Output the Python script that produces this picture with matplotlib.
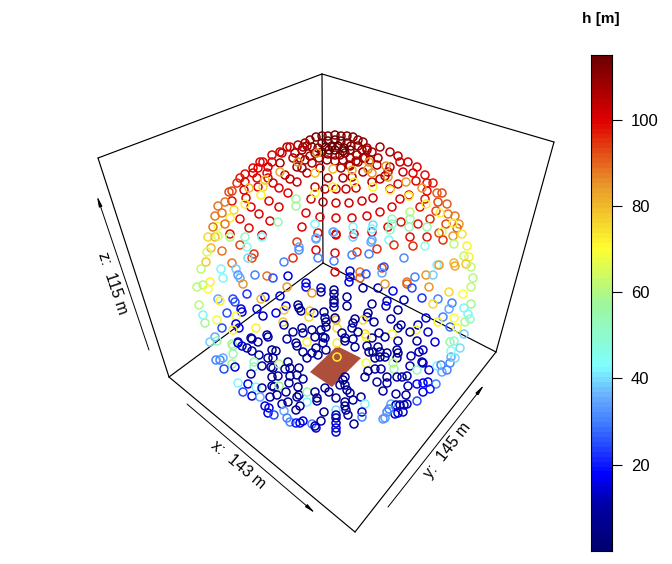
import numpy as np
import matplotlib
matplotlib.use("Agg")
import matplotlib.pyplot as plt
from matplotlib.colors import LinearSegmentedColormap, Normalize

plt.rcParams['font.family'] = ['Liberation Sans', 'DejaVu Sans']

# every point: projected x, projected y (pixels), h [m]
cap_pts = [
    (310,140,110),(316,137,112),(322,136,112),(328,136,112),(335,135,113),(341,136,112),(347,136,112),(353,137,112),
    (358,140,110),(363,142,110),(322,143,112),(328,141,113),(335,140,114),(341,141,113),(347,143,112),(351,146,112),
    (350,150,112),(345,153,112),(340,155,110),(335,155,110),(328,154,112),(322,152,112),(318,148,112),(326,147,114),
    (332,146,114),(338,146,114),(344,148,114),(343,151,114),(335,150,114),(329,150,114),(307,146,108),(302,150,108),
    (312,147,110),(315,153,108),(310,156,108),(305,160,106),(300,158,106),(319,158,108),(327,160,108),(335,161,108),
    (343,160,108),(350,158,108),(357,155,108),(362,150,108),(367,148,108),(358,146,110),(372,152,106),(365,158,106),
    (370,160,106),(356,161,106),(349,165,106),
]
upper_left_pts = [
    (305,143,106),(298,145,105),(290,147,103),(287,147,103),(280,152,102),(272,155,100),(263,162,100),(260,162,100),
    (253,168,100),(245,174,98),(240,178,97),(237,183,95),(232,191,93),(229,192,92),(303,147,106),(295,153,105),
    (293,158,105),(282,153,103),(280,163,108),(272,162,100),(268,167,102),(267,173,100),(258,168,100),(253,173,100),
    (257,178,100),(245,182,100),(244,190,100),(232,201,98),(307,173,104),(302,168,108),(297,167,108),(290,179,104),
    (285,175,104),(268,178,100),(273,183,102),(279,188,100),(288,193,100),(258,187,100),(269,201,100),(251,207,100),
    (246,198,100),(259,214,100),(279,207,100),(311,199,102),(306,213,100),(270,221,100),(249,228,98),(240,219,98),
    (230,234,98),(302,227,100),(262,235,100),(297,182,102),(315,187,102),(325,189,104),(336,189,104),(323,202,104),
    (336,203,102),(320,217,100),(336,218,100),(318,233,100),(336,234,100),(328,178,106),(320,168,106),(312,163,106),
    (315,173,78),(333,169,80),(280,172,82),(298,162,86),(317,153,85),(265,180,78),(263,187,75),(261,195,72),
    (249,188,80),(245,204,72),(234,210,75),(230,218,72),(218,226,70),(213,227,88),(208,237,75),(215,237,80),
    (225,224,88),(222,213,88),(215,216,88),(218,206,88),(225,202,88),(296,199,58),(296,206,58),(315,193,68),
    (278,222,55),(230,237,60),(245,237,50),(218,236,65),(315,224,42),(334,232,38),(316,238,35),(262,237,42),
    (333,187,72),
]
upper_right_pts = [
    (380,147,108),(390,152,106),(398,156,104),(408,162,102),(417,167,100),(425,175,98),(433,183,97),(442,193,92),
    (367,150,108),(363,158,106),(358,162,106),(350,166,106),(341,168,106),(378,158,106),(377,165,106),(390,167,104),
    (388,172,104),(385,176,104),(380,179,104),(372,182,104),(363,172,106),(352,177,106),(343,178,106),(346,189,103),
    (356,188,102),(398,184,100),(403,172,102),(400,162,102),(416,181,100),(413,173,100),(427,183,98),(427,191,98),
    (409,195,100),(400,199,100),(390,189,102),(373,198,102),(362,201,102),(349,203,102),(425,199,97),(420,207,97),
    (392,207,100),(380,212,100),(367,216,100),(352,218,100),(430,219,96),(418,224,97),(401,222,98),(388,227,98),
    (372,232,100),(354,234,100),(336,235,100),(410,237,98),(427,237,97),(447,204,90),(438,202,92),(437,193,90),
    (455,216,88),(459,224,85),(448,214,88),(436,211,93),(446,224,93),(457,228,90),(439,233,93),(453,236,85),
    (406,182,85),(422,188,84),(372,173,84),(368,169,84),(388,177,84),(352,170,80),(386,166,85),(369,162,85),
    (390,190,72),(373,187,72),(354,182,72),(409,196,72),(426,204,72),(440,213,72),(462,234,74),(453,223,72),
    (392,219,52),(392,224,50),(390,230,50),(410,212,62),(410,219,55),(409,227,52),(427,227,55),(373,225,40),
    (372,229,42),(353,227,42),(333,232,35),(372,240,35),(353,237,38),(389,240,42),(442,232,65),
]
mid_left_pts = [
    (297,242,95),(299,247,35),(299,250,32),(316,239,35),(316,250,100),(318,258,30),(293,258,95),(284,262,30),
    (254,254,95),(252,258,92),(248,258,40),(240,245,92),(247,247,45),(211,248,80),(222,251,88),(207,252,65),
    (206,262,78),(232,263,88),(201,269,62),(221,269,42),(236,269,38),(223,278,42),(238,275,33),(240,278,35),
    (243,284,85),(255,275,30),(267,276,88),(273,278,25),(288,276,15),(210,282,72),(203,285,60),(197,287,62),
    (208,289,70),(247,294,22),(287,287,85),(306,283,15),(306,287,15),(321,288,12),(321,292,12),(312,293,85),
    (334,290,8),(334,294,8),(280,296,15),(265,297,15),(261,299,80),(218,299,35),(220,301,72),(233,299,25),
    (235,302,25),(199,305,60),(334,300,8),(334,303,8),(334,307,8),(286,306,15),(298,305,8),(299,308,8),
    (301,311,8),(310,311,78),(284,310,78),(257,309,15),(241,309,15),(242,312,15),(227,313,25),(276,313,15),
    (263,316,12),(236,316,70),(203,315,42),(314,313,10),(309,317,75),(324,312,8),(335,318,80),(325,318,8),
    (326,322,8),(326,327,8),(205,323,58),(217,320,68),(283,322,78),(284,325,12),(236,324,15),(239,328,15),
    (233,330,72),(222,328,25),(256,328,72),(302,328,8),(312,330,8),(293,332,8),(303,333,8),(321,330,8),
    (337,328,75),(215,337,35),(217,341,55),(251,338,10),(267,335,10),(268,337,10),(287,339,10),(258,342,10),
    (238,342,10),(307,342,72),(296,343,8),(337,343,72),(323,337,8),(315,337,8),(232,344,58),(210,342,38),
]
mid_right_pts = [
    (335,253,100),(334,261,30),(335,272,100),(357,252,95),(352,255,30),(369,254,30),(377,249,95),(371,242,35),
    (394,245,95),(413,246,95),(425,246,45),(443,240,95),(454,244,62),(467,246,72),(464,256,62),(469,257,72),
    (404,258,32),(437,265,42),(439,265,85),(454,263,80),(455,266,82),(466,264,78),(471,267,62),(473,278,60),
    (471,287,62),(463,294,70),(382,268,92),(384,267,25),(382,273,35),(360,272,88),(360,278,90),(366,274,25),
    (350,271,15),(350,277,15),(349,282,15),(363,288,10),(378,288,12),(385,284,85),(393,291,18),(407,282,88),
    (407,284,90),(412,288,25),(415,277,30),(426,275,85),(433,275,38),(429,287,85),(422,298,22),(438,299,30),
    (449,292,75),(433,304,75),(452,303,30),(449,309,35),(464,308,42),(471,304,58),(468,314,42),(443,317,30),
    (454,318,70),(465,322,60),(470,319,50),(438,322,72),(426,318,15),(404,300,12),(387,301,15),(386,306,12),
    (372,304,10),(347,297,8),(347,306,8),(398,310,10),(368,313,8),(367,317,8),(363,320,75),(355,319,8),
    (353,323,8),(352,328,8),(336,320,80),(335,318,8),(374,322,10),(391,319,10),(401,325,10),(398,328,10),
    (418,325,12),(416,330,72),(410,332,10),(428,332,15),(392,334,70),(379,333,8),(365,334,75),(358,332,8),
    (342,333,8),(372,338,8),(353,339,8),(345,338,8),(385,337,8),(398,341,10),(417,341,10),(435,342,15),
    (450,327,28),(457,328,70),(464,334,38),(450,342,55),(454,341,50),
]
low_left_pts = [
    (233,346,58),(238,343,15),(242,346,15),(233,354,55),(216,360,30),(220,360,30),(223,358,35),(232,364,58),
    (224,369,25),(235,367,15),(247,348,10),(252,351,10),(252,339,10),(259,355,10),(254,362,55),(254,367,50),
    (262,366,10),(251,374,10),(272,350,8),(276,351,8),(268,358,8),(273,358,8),(271,367,8),(273,368,8),
    (279,364,60),(288,362,8),(290,368,8),(285,369,8),(299,368,8),(290,376,8),(297,375,8),(303,379,8),
    (278,376,8),(272,377,8),(272,386,8),(274,387,8),(279,386,58),(289,383,8),(298,387,8),(248,384,15),
    (238,383,42),(256,387,42),(262,388,10),(243,392,25),(252,396,15),(260,397,35),(270,397,10),(277,395,10),
    (286,392,8),(299,395,8),(297,397,8),(307,392,55),(315,392,8),(317,401,8),(317,398,8),(307,402,42),
    (288,402,8),(282,404,10),(300,406,8),(296,410,8),(265,406,15),(269,408,15),(268,413,15),(274,415,25),
    (284,411,35),(287,418,30),(290,422,30),(296,423,20),(300,423,15),(303,421,15),(312,424,30),(316,428,15),
    (315,426,10),(321,421,10),(324,412,8),(325,388,10),(329,392,8),(297,346,8),(303,352,8),(307,358,8),
    (312,353,8),(316,348,8),(323,343,8),(325,338,8),(326,350,8),(318,355,8),
]
low_right_pts = [
    (345,341,8),(355,347,8),(366,337,72),(366,363,70),(367,346,8),(373,352,8),(380,352,8),(387,353,8),
    (397,350,8),(398,353,8),(397,358,8),(393,363,62),(394,369,55),(385,357,8),(378,347,8),(375,358,8),
    (380,357,8),(369,352,8),(375,369,10),(381,369,10),(368,371,8),(365,377,8),(377,382,10),(387,377,10),
    (387,383,10),(397,377,10),(402,377,10),(407,376,10),(410,366,12),(411,356,12),(417,370,50),(429,370,15),
    (437,366,42),(441,365,30),(442,372,35),(447,370,30),(450,363,30),(451,357,35),(455,358,40),(451,351,45),
    (460,348,40),(422,362,12),(423,363,12),(419,352,12),(423,350,12),(408,386,12),(417,384,18),(423,383,18),
    (428,382,15),(436,384,30),(430,389,20),(423,392,15),(383,391,10),(396,394,10),(406,395,10),(417,401,25),
    (345,377,8),(343,380,8),(345,385,8),(340,385,8),(347,390,8),(350,393,8),(336,398,8),(353,400,8),
    (361,397,8),(345,402,8),(345,406,8),(346,410,8),(348,415,8),(365,404,42),(362,412,12),(362,417,30),
    (354,424,10),(391,404,35),(396,405,10),(400,405,10),(404,405,12),(407,404,12),(398,413,15),(395,414,15),
    (403,412,12),(387,412,30),(385,418,33),(383,419,33),(389,409,30),(336,410,40),(336,415,12),(336,418,12),
    (336,423,12),(336,428,15),(336,432,15),(337,357,72),
]

box_edges = [
    [(98,158),(322,74)], [(322,74),(554,142)], [(98,158),(169,377)], [(554,142),(496,352)],
    [(169,377),(355,532)], [(355,532),(496,352)], [(322,74),(323,263)],
    [(323,263),(169,377)], [(323,263),(496,352)],
]
plate_corners = [(310,372),(337,346),(361,358),(332,387)]
# arrow tail, arrow tip
axis_arrows = [((149,350),(97,196)), ((187,404),(315,513)), ((388,507),(484,385))]
h_ticks = [20, 40, 60, 80, 100]
h_max = 115

ramp = LinearSegmentedColormap.from_list("ramp", [
    (0.0, "#000070"), (0.09, "#0000a8"), (0.15, "#0000ff"), (0.25, "#3c78ff"), (0.31, "#6aaeff"),
    (0.37, "#7fffff"), (0.50, "#9ff79a"), (0.61, "#ffff30"), (0.74, "#e8962a"),
    (0.87, "#e00000"), (1.0, "#6c0000"),
], N=100)

fig = plt.figure(figsize=(6.72, 5.64), dpi=100)
ax = fig.add_axes([0, 0, 1, 1])
ax.set_xlim(0, 672)
ax.set_ylim(564, 0)
ax.axis("off")

for edge in box_edges:
    ax.plot(*zip(*edge), color="black", lw=0.85, zorder=1, solid_capstyle="round")

ax.fill(*zip(*plate_corners), color="#ae4f3c", zorder=2, lw=0)

pts = np.array(cap_pts + upper_left_pts + upper_right_pts + mid_left_pts
               + mid_right_pts + low_left_pts + low_right_pts, dtype=float)
ax.scatter(pts[:, 0], pts[:, 1], facecolors="none",
           edgecolors=ramp(Normalize(0, h_max)(pts[:, 2])),
           s=33, linewidths=1.1, zorder=3)

# axis arrows and their labels
for tail, tip in axis_arrows:
    ax.annotate("", xy=tip, xytext=tail,
                arrowprops=dict(arrowstyle="-|>,head_length=0.6,head_width=0.1",
                                color="black", lw=0.7, shrinkA=0, shrinkB=0))
ax.text(113, 283, "z:  115 m", rotation=-71.5, ha="center", va="center", fontsize=11.5)
ax.text(238, 465, "x:  143 m", rotation=-40, ha="center", va="center", fontsize=11.5)
ax.text(447, 450, "y:  145 m", rotation=52, ha="center", va="center", fontsize=11.5)

# colour bar
cax = fig.add_axes([591 / 672, 13 / 564, 21 / 672, 496 / 564])
cax.imshow(np.linspace(h_max, 0, 100)[:, None], cmap=ramp, aspect="auto",
           extent=[0, 1, 0, h_max], vmin=0, vmax=h_max, interpolation="nearest")
cax.set_xticks([])
cax.yaxis.tick_right()
cax.set_yticks(h_ticks)
cax.tick_params(axis="y", length=7.5, width=0.8, pad=6, labelsize=12)
for spine in cax.spines.values():
    spine.set_linewidth(0.8)
fig.text(601 / 672, 1 - 19 / 564, "h [m]", ha="center", va="center",
         fontsize=11, fontweight="bold")

fig.savefig("out.png", dpi=100)
